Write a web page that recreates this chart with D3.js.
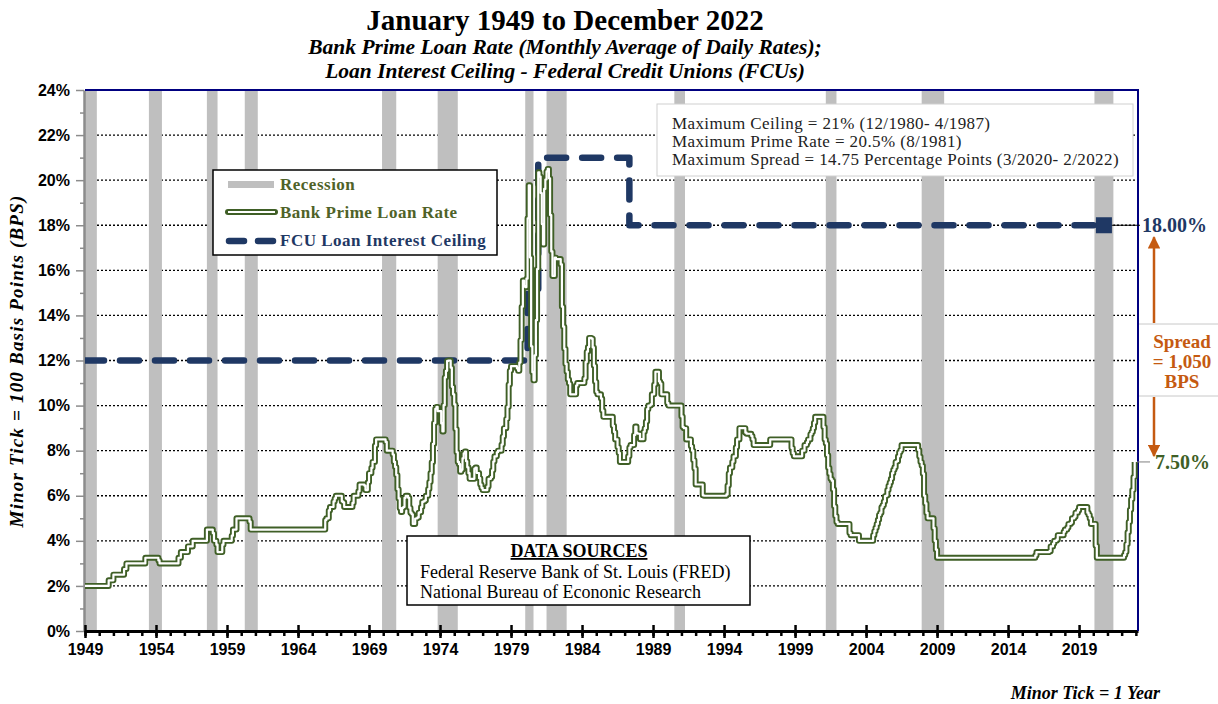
<!DOCTYPE html>
<meta charset="utf-8">
<title>Prime Rate vs FCU Loan Ceiling</title>
<style>

body {
  margin: 0px;
  background: #fff;
}

svg {
  font-family: "Liberation Serif", "Times New Roman", serif;
}

.axis text {
  font-size: 16px;
  font-weight: bold;
  fill: #000;
}

.lgd {
  font-size: 17px;
  font-weight: bold;
  letter-spacing: 0.5px;
}

.note {
  font-size: 17px;
  letter-spacing: 0.4px;
  fill: #222;
}

</style>

<script src="https://cdn.jsdelivr.net/npm/d3@7"></script>

<body>

<script>

var width = 1218, height = 704;

// Bank prime loan rate, monthly average -- listed at the months where it changed
var primeRate = [
  ["1949-01",2.00],["1950-09",2.25],["1951-01",2.50],["1951-10",2.75],["1951-12",3.00],
  ["1953-04",3.25],["1954-03",3.13],["1954-04",3.00],["1955-08",3.25],["1955-10",3.50],
  ["1956-04",3.75],["1956-08",4.00],["1957-08",4.50],["1958-01",4.34],["1958-02",4.00],
  ["1958-04",3.83],["1958-05",3.50],["1958-09",3.83],["1958-10",4.00],["1959-05",4.23],
  ["1959-06",4.50],["1959-09",5.00],["1960-08",4.85],["1960-09",4.50],["1965-12",4.92],
  ["1966-01",5.00],["1966-03",5.35],["1966-04",5.50],["1966-07",5.75],["1966-08",5.88],
  ["1966-09",6.00],["1967-02",5.75],["1967-03",5.71],["1967-04",5.50],["1967-11",5.68],
  ["1967-12",6.00],["1968-04",6.20],["1968-05",6.50],["1968-09",6.45],["1968-10",6.25],
  ["1968-12",6.60],["1969-01",7.00],["1969-03",7.24],["1969-04",7.50],["1969-06",8.23],
  ["1969-07",8.50],["1970-03",8.39],["1970-04",8.00],["1970-09",7.83],["1970-10",7.50],
  ["1970-11",7.28],["1970-12",6.92],["1971-01",6.29],["1971-02",5.88],["1971-03",5.44],
  ["1971-04",5.28],["1971-05",5.46],["1971-06",5.50],["1971-07",5.91],["1971-08",6.00],
  ["1971-10",5.91],["1971-11",5.47],["1971-12",5.25],["1972-01",5.18],["1972-02",4.75],
  ["1972-04",4.99],["1972-05",5.00],["1972-06",5.04],["1972-07",5.25],["1972-08",5.27],
  ["1972-09",5.50],["1972-10",5.73],["1972-11",5.75],["1972-12",5.79],["1973-01",6.00],
  ["1973-03",6.30],["1973-04",6.61],["1973-05",7.01],["1973-06",7.49],["1973-07",8.30],
  ["1973-08",9.23],["1973-09",9.86],["1973-10",9.94],["1973-11",9.75],["1974-02",9.21],
  ["1974-03",8.85],["1974-04",10.02],["1974-05",11.25],["1974-06",11.54],["1974-07",11.98],
  ["1974-08",12.00],["1974-10",11.68],["1974-11",10.83],["1974-12",10.50],["1975-01",10.05],
  ["1975-02",8.96],["1975-03",7.93],["1975-04",7.50],["1975-05",7.40],["1975-06",7.07],
  ["1975-07",7.15],["1975-08",7.66],["1975-09",7.88],["1975-10",7.96],["1975-11",7.53],
  ["1975-12",7.26],["1976-01",7.00],["1976-02",6.75],["1976-06",7.20],["1976-07",7.25],
  ["1976-08",7.01],["1976-10",6.78],["1976-11",6.50],["1976-12",6.35],["1977-01",6.25],
  ["1977-05",6.41],["1977-06",6.75],["1977-08",6.83],["1977-09",7.13],["1977-10",7.52],
  ["1977-11",7.75],["1978-01",7.93],["1978-02",8.00],["1978-05",8.27],["1978-06",8.63],
  ["1978-07",9.00],["1978-09",9.41],["1978-10",9.94],["1978-11",10.94],["1978-12",11.55],
  ["1979-01",11.75],["1979-06",11.65],["1979-07",11.54],["1979-08",11.91],["1979-09",12.90],
  ["1979-10",14.39],["1979-11",15.55],["1979-12",15.30],["1980-01",15.25],["1980-02",15.63],
  ["1980-03",18.31],["1980-04",19.77],["1980-05",16.57],["1980-06",12.63],["1980-07",11.48],
  ["1980-08",11.12],["1980-09",12.23],["1980-10",13.79],["1980-11",16.06],["1980-12",20.35],
  ["1981-01",20.16],["1981-02",19.43],["1981-03",18.05],["1981-04",17.15],["1981-05",19.61],
  ["1981-06",20.03],["1981-07",20.39],["1981-08",20.50],["1981-09",20.08],["1981-10",18.45],
  ["1981-11",16.84],["1981-12",15.75],["1982-02",16.56],["1982-03",16.50],["1982-07",16.26],
  ["1982-08",14.39],["1982-09",13.50],["1982-10",12.52],["1982-11",11.85],["1982-12",11.50],
  ["1983-01",11.16],["1983-02",10.98],["1983-03",10.50],["1983-08",10.89],["1983-09",11.00],
  ["1984-03",11.21],["1984-04",11.93],["1984-05",12.39],["1984-06",12.60],["1984-07",13.00],
  ["1984-09",12.97],["1984-10",12.58],["1984-11",11.77],["1984-12",11.06],["1985-01",10.61],
  ["1985-02",10.50],["1985-05",10.31],["1985-06",9.78],["1985-07",9.50],["1986-03",9.10],
  ["1986-04",8.83],["1986-05",8.50],["1986-07",8.16],["1986-08",7.90],["1986-09",7.50],
  ["1987-04",7.75],["1987-05",8.14],["1987-06",8.25],["1987-09",8.70],["1987-10",9.07],
  ["1987-11",8.78],["1987-12",8.75],["1988-02",8.51],["1988-05",8.84],["1988-06",9.00],
  ["1988-07",9.29],["1988-08",9.84],["1988-09",10.00],["1988-11",10.05],["1988-12",10.50],
  ["1989-02",10.93],["1989-03",11.50],["1989-06",11.07],["1989-07",10.98],["1989-08",10.50],
  ["1990-01",10.11],["1990-02",10.00],["1991-01",9.52],["1991-02",9.05],["1991-03",9.00],
  ["1991-05",8.50],["1991-09",8.20],["1991-10",8.00],["1991-11",7.58],["1991-12",7.21],
  ["1992-01",6.50],["1992-07",6.02],["1992-08",6.00],["1994-03",6.06],["1994-04",6.45],
  ["1994-05",6.99],["1994-06",7.25],["1994-08",7.51],["1994-09",7.75],["1994-11",8.15],
  ["1994-12",8.50],["1995-02",9.00],["1995-07",8.80],["1995-08",8.75],["1995-12",8.65],
  ["1996-01",8.50],["1996-02",8.25],["1997-04",8.50],["1998-10",8.12],["1998-11",7.89],
  ["1998-12",7.75],["1999-07",8.00],["1999-09",8.25],["1999-11",8.37],["1999-12",8.50],
  ["2000-02",8.73],["2000-03",8.83],["2000-04",9.00],["2000-05",9.24],["2000-06",9.50],
  ["2001-01",9.05],["2001-02",8.50],["2001-03",8.32],["2001-04",7.80],["2001-05",7.24],
  ["2001-06",6.98],["2001-07",6.75],["2001-08",6.67],["2001-09",6.28],["2001-10",5.53],
  ["2001-11",5.10],["2001-12",4.84],["2002-01",4.75],["2002-11",4.35],["2002-12",4.25],
  ["2003-07",4.00],["2004-07",4.25],["2004-08",4.43],["2004-09",4.58],["2004-10",4.75],
  ["2004-11",4.93],["2004-12",5.15],["2005-01",5.25],["2005-02",5.49],["2005-03",5.58],
  ["2005-04",5.75],["2005-05",5.98],["2005-06",6.01],["2005-07",6.25],["2005-08",6.44],
  ["2005-09",6.59],["2005-10",6.75],["2005-11",7.00],["2005-12",7.15],["2006-01",7.26],
  ["2006-02",7.50],["2006-03",7.53],["2006-04",7.75],["2006-05",7.93],["2006-06",8.02],
  ["2006-07",8.25],["2007-09",8.03],["2007-10",7.74],["2007-11",7.50],["2007-12",7.33],
  ["2008-01",6.98],["2008-02",6.00],["2008-03",5.66],["2008-04",5.24],["2008-05",5.00],
  ["2008-10",4.56],["2008-11",4.00],["2008-12",3.61],["2009-01",3.25],["2015-12",3.35],
  ["2016-01",3.50],["2016-12",3.54],["2017-01",3.75],["2017-03",3.88],["2017-04",4.00],
  ["2017-06",4.05],["2017-07",4.25],["2017-12",4.40],["2018-01",4.50],["2018-03",4.59],
  ["2018-04",4.75],["2018-06",4.80],["2018-07",5.00],["2018-09",5.07],["2018-10",5.25],
  ["2018-12",5.35],["2019-01",5.50],["2019-08",5.25],["2019-09",5.15],["2019-10",4.99],
  ["2019-11",4.75],["2020-03",3.78],["2020-04",3.25],["2022-03",3.37],["2022-04",3.50],
  ["2022-05",3.85],["2022-06",4.38],["2022-07",4.84],["2022-08",5.38],["2022-09",5.85],
  ["2022-10",6.25],["2022-11",6.83],["2022-12",7.50]
];

// FCU loan interest ceiling (percent)
var fcuCeiling = [
  ["1949-01",12],["1980-03",15],["1980-12",21],["1987-05",18],["2020-10",18]
];

// Recessions, first and last month (as shaded in the chart)
var recessions = [
  ["1948-11","1949-10"],["1953-07","1954-05"],["1957-08","1958-04"],["1960-04","1961-02"],
  ["1969-12","1970-11"],["1973-11","1975-03"],["1980-01","1980-07"],["1981-07","1982-11"],
  ["1990-07","1991-03"],["2001-03","2001-11"],["2007-12","2009-06"],["2020-02","2021-05"]
];

var yearTicks = d3.range(1949, 2020, 5);
var pctTicks = d3.range(0, 25, 2);

var noteLines = [
  "Maximum Ceiling = 21% (12/1980- 4/1987)",
  "Maximum Prime Rate = 20.5% (8/1981)",
  "Maximum Spread = 14.75 Percentage Points (3/2020- 2/2022)"
];

var lastPrime = 7.50, lastCeiling = 18.00;

var green = "#3f5f26", navy = "#1f3864", orange = "#c55a11";

function toYear(s) {
  var p = s.split("-");
  return +p[0] + (+p[1] - 1) / 12;
}

var x = d3.scaleLinear().domain([1949, 2023.15]).range([85, 1138]);
var y = d3.scaleLinear().domain([0, 24]).range([631, 90]);

var svg = d3.select("body").append("svg")
    .attr("width", width)
    .attr("height", height);

var defs = svg.append("defs");

defs.append("clipPath").attr("id", "plot")
  .append("rect")
    .attr("x", x.range()[0]).attr("y", y(24))
    .attr("width", x.range()[1] - x.range()[0]).attr("height", y(0) - y(24));

defs.append("marker")
    .attr("id", "arrow")
    .attr("viewBox", "0 0 10 10")
    .attr("refX", 9).attr("refY", 5)
    .attr("markerWidth", 5).attr("markerHeight", 5)
    .attr("orient", "auto")
  .append("path")
    .attr("d", "M0,0L10,5L0,10Z")
    .attr("fill", orange);

// titles
svg.append("text")
    .attr("x", 565).attr("y", 30)
    .attr("text-anchor", "middle")
    .style("font-size", "29px").style("font-weight", "bold")
    .text("January 1949 to December 2022");

svg.append("text")
    .attr("x", 565).attr("y", 54)
    .attr("text-anchor", "middle")
    .style("font-size", "21.5px").style("font-weight", "bold").style("font-style", "italic")
    .text("Bank Prime Loan Rate (Monthly Average of Daily Rates);");

svg.append("text")
    .attr("x", 565).attr("y", 78)
    .attr("text-anchor", "middle")
    .style("font-size", "21.5px").style("font-weight", "bold").style("font-style", "italic")
    .text("Loan Interest Ceiling - Federal Credit Unions (FCUs)");

// gridlines
svg.append("g").selectAll("line")
    .data(pctTicks.filter(function(d) { return d > 0 && d < 24; }))
  .enter().append("line")
    .attr("x1", x.range()[0]).attr("x2", x.range()[1])
    .attr("y1", function(d) { return y(d); })
    .attr("y2", function(d) { return y(d); })
    .attr("stroke", "#000")
    .attr("stroke-width", 1.3)
    .attr("stroke-dasharray", "2,2");

// recession bars
svg.append("g").attr("clip-path", "url(#plot)").selectAll("rect")
    .data(recessions)
  .enter().append("rect")
    .attr("x", function(d) { return x(toYear(d[0])); })
    .attr("width", function(d) { return x(toYear(d[1]) + 1 / 12) - x(toYear(d[0])); })
    .attr("y", y(24))
    .attr("height", y(0) - y(24))
    .attr("fill", "#bfbfbf");

// note box (top right)
var note = svg.append("g");
note.append("rect")
    .attr("x", 657).attr("y", 104).attr("width", 476).attr("height", 72)
    .attr("fill", "#fff").attr("stroke", "#d0d0d0");
note.selectAll("text.note")
    .data(noteLines)
  .enter().append("text")
    .attr("class", "note")
    .attr("x", 672)
    .attr("y", function(d, i) { return 129 + i * 18; })
    .text(function(d) { return d; });

// data sources box
var src = svg.append("g");
src.append("rect")
    .attr("x", 407).attr("y", 536).attr("width", 343).attr("height", 69)
    .attr("fill", "#fff").attr("stroke", "#000").attr("stroke-width", 1.5);
src.append("text")
    .attr("x", 579).attr("y", 557)
    .attr("text-anchor", "middle")
    .style("font-size", "18px").style("font-weight", "bold")
    .style("text-decoration", "underline")
    .text("DATA SOURCES");
src.append("text")
    .attr("x", 420).attr("y", 578)
    .style("font-size", "18px")
    .text("Federal Reserve Bank of St. Louis (FRED)");
src.append("text")
    .attr("x", 420).attr("y", 598)
    .style("font-size", "18px")
    .text("National Bureau of Econonic Research");

// legend
var lg = svg.append("g");
lg.append("rect")
    .attr("x", 213).attr("y", 170).attr("width", 284).attr("height", 85)
    .attr("fill", "#fff").attr("stroke", "#000").attr("stroke-width", 1.5);
lg.append("rect")
    .attr("x", 228).attr("y", 181).attr("width", 46).attr("height", 7)
    .attr("fill", "#bfbfbf");
lg.append("line")
    .attr("x1", 228).attr("x2", 275).attr("y1", 212).attr("y2", 212)
    .attr("stroke", green).attr("stroke-width", 6).attr("stroke-linecap", "round");
lg.append("line")
    .attr("x1", 228).attr("x2", 275).attr("y1", 212).attr("y2", 212)
    .attr("stroke", "#fff").attr("stroke-width", 2.2);
lg.append("line")
    .attr("x1", 229).attr("x2", 273).attr("y1", 241).attr("y2", 241)
    .attr("stroke", navy).attr("stroke-width", 6.5)
    .attr("stroke-linecap", "round").attr("stroke-dasharray", "15,14");
lg.append("text").attr("class", "lgd").attr("x", 280).attr("y", 190)
    .attr("fill", "#4f6228").text("Recession");
lg.append("text").attr("class", "lgd").attr("x", 280).attr("y", 218)
    .attr("fill", "#4f6228").text("Bank Prime Loan Rate");
lg.append("text").attr("class", "lgd").attr("x", 280).attr("y", 246)
    .attr("fill", navy).text("FCU Loan Interest Ceiling");

// axes
var yAxis = svg.append("g")
    .attr("class", "axis")
    .attr("transform", "translate(84,0)")
    .call(d3.axisLeft(y).tickValues(pctTicks).tickSize(8).tickPadding(6)
      .tickSizeOuter(0).tickFormat(function(d) { return d + "%"; }));
yAxis.select(".domain").attr("stroke", "#8c8c8c").attr("stroke-width", 2.5);
yAxis.selectAll(".tick line").attr("stroke", "#8c8c8c").attr("stroke-width", 1.5);

var yMinor = svg.append("g")
    .attr("transform", "translate(84,0)")
    .call(d3.axisLeft(y).tickValues(d3.range(1, 24, 2)).tickSize(4).tickFormat(""));
yMinor.select(".domain").remove();
yMinor.selectAll(".tick line").attr("stroke", "#8c8c8c").attr("stroke-width", 1.5);

var xMinor = svg.append("g")
    .attr("transform", "translate(0,631)")
    .call(d3.axisBottom(x).tickValues(d3.range(1949, 2024)).tickSize(5).tickFormat(""));
xMinor.select(".domain").remove();
xMinor.selectAll(".tick line").attr("stroke", "#000").attr("stroke-width", 2.5);

var xAxis = svg.append("g")
    .attr("class", "axis")
    .attr("transform", "translate(0,631)")
    .call(d3.axisBottom(x).tickValues(yearTicks).tickSize(7).tickPadding(6)
      .tickSizeOuter(0).tickFormat(d3.format("d")));
xAxis.select(".domain").attr("stroke", "#000").attr("stroke-width", 3);
xAxis.selectAll(".tick line").attr("y1", -6).attr("stroke", "#000").attr("stroke-width", 2.5);

// top and right frame
svg.append("path")
    .attr("d", "M" + x.range()[0] + "," + y(24) + "H" + x.range()[1] + "V" + y(0))
    .attr("fill", "none").attr("stroke", "#000080").attr("stroke-width", 2);

// series
var stepLine = d3.line()
    .x(function(d) { return x(toYear(d[0])); })
    .y(function(d) { return y(d[1]); })
    .curve(d3.curveStepAfter);

var series = svg.append("g").attr("clip-path", "url(#plot)");

series.append("path")
    .datum(fcuCeiling)
    .attr("d", stepLine)
    .attr("fill", "none")
    .attr("stroke", navy)
    .attr("stroke-width", 6.5)
    .attr("stroke-linecap", "round")
    .attr("stroke-linejoin", "round")
    .attr("stroke-dasharray", "19,16");

series.append("path")
    .datum(primeRate)
    .attr("d", stepLine)
    .attr("fill", "none")
    .attr("stroke", green)
    .attr("stroke-width", 6)
    .attr("stroke-linejoin", "round");

series.append("path")
    .datum(primeRate)
    .attr("d", stepLine)
    .attr("fill", "none")
    .attr("stroke", "#fff")
    .attr("stroke-width", 2.2)
    .attr("stroke-linejoin", "round");

// end marker of ceiling and end labels
var endC = fcuCeiling[fcuCeiling.length - 1];
svg.append("line")
    .attr("x1", x(toYear(endC[0]))).attr("x2", 1140)
    .attr("y1", y(lastCeiling)).attr("y2", y(lastCeiling))
    .attr("stroke", "#000").attr("stroke-width", 1);
svg.append("rect")
    .attr("x", x(toYear(endC[0])) - 8).attr("y", y(lastCeiling) - 8)
    .attr("width", 16).attr("height", 16)
    .attr("fill", navy);
svg.append("text")
    .attr("x", 1142).attr("y", y(lastCeiling) + 7)
    .attr("fill", navy)
    .style("font-size", "20px").style("font-weight", "bold")
    .text(d3.format(".2f")(lastCeiling) + "%");

svg.append("line")
    .attr("x1", 1137).attr("x2", 1150)
    .attr("y1", y(lastPrime)).attr("y2", y(lastPrime))
    .attr("stroke", "#808080").attr("stroke-width", 1);
svg.append("text")
    .attr("x", 1155).attr("y", y(lastPrime) + 7)
    .attr("fill", green)
    .style("font-size", "20px").style("font-weight", "bold")
    .text(d3.format(".2f")(lastPrime) + "%");

// spread annotation
var ax = 1154;
svg.append("line")
    .attr("x1", ax).attr("x2", ax).attr("y1", 323).attr("y2", y(lastCeiling) + 12)
    .attr("stroke", orange).attr("stroke-width", 2.5)
    .attr("marker-end", "url(#arrow)");
svg.append("line")
    .attr("x1", ax).attr("x2", ax).attr("y1", 397).attr("y2", y(lastPrime) - 6)
    .attr("stroke", orange).attr("stroke-width", 2.5)
    .attr("marker-end", "url(#arrow)");

svg.append("line").attr("x1", 1139).attr("x2", width).attr("y1", 324).attr("y2", 324)
    .attr("stroke", "#c8c8c8");
svg.append("line").attr("x1", 1139).attr("x2", width).attr("y1", 396).attr("y2", 396)
    .attr("stroke", "#c8c8c8");

var spread = Math.round((lastCeiling - lastPrime) * 100);
svg.selectAll("text.spread")
    .data(["Spread", "= " + d3.format(",")(spread), "BPS"])
  .enter().append("text")
    .attr("class", "spread")
    .attr("x", 1182)
    .attr("y", function(d, i) { return 348 + i * 20; })
    .attr("text-anchor", "middle")
    .attr("fill", orange)
    .style("font-size", "19px").style("font-weight", "bold")
    .text(function(d) { return d; });

// axis notes
svg.append("text")
    .attr("transform", "translate(23,361) rotate(-90)")
    .attr("text-anchor", "middle")
    .style("font-size", "19px").style("font-style", "italic").style("font-weight", "bold")
    .style("letter-spacing", "1.2px")
    .text("Minor Tick = 100 Basis Points (BPS)");

svg.append("text")
    .attr("x", 1160).attr("y", 699)
    .attr("text-anchor", "end")
    .style("font-size", "18px").style("font-style", "italic").style("font-weight", "bold")
    .text("Minor Tick = 1 Year");

</script>
